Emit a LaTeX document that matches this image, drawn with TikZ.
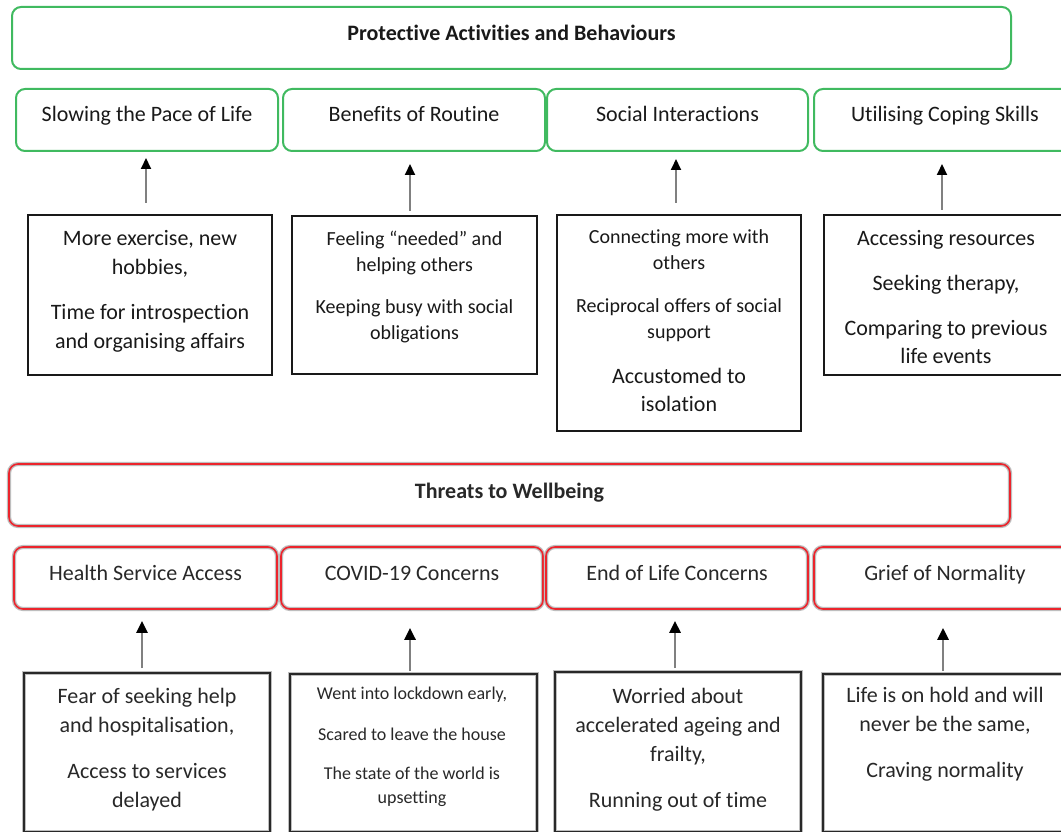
\documentclass[tikz,border=0pt]{standalone}
\usepackage{fontspec}
\setmainfont{Carlito}[Ligatures=NoCommon]
\usetikzlibrary{arrows.meta}
\definecolor{grn}{RGB}{64,186,96}
\definecolor{rd}{RGB}{236,36,44}
\definecolor{halo}{RGB}{190,190,190}
\definecolor{ink}{RGB}{25,25,25}
\definecolor{inkB}{RGB}{40,40,40}
\definecolor{shaft}{RGB}{128,128,128}
\newcommand\fl{\rule{0pt}{.8em}}
\begin{document}
\begin{tikzpicture}[x=1pt,y=-1pt,
  hdrfont/.style={font=\bfseries\fontsize{22}{26}\selectfont, text height=6pt},
  subfont/.style={font=\fontsize{22}{26}\selectfont, text height=4pt},
  greenbox/.style={draw=grn, line width=2, rounded corners=9, minimum height=62,
    text height=0pt, text depth=0pt, inner sep=0, text=ink},
  redbox/.style={preaction={draw=halo, line width=4.2}, draw=rd, line width=1.6,
    rounded corners=9, minimum height=62, text height=0pt, text depth=0pt,
    inner sep=0, text=inkB},
  cboxA/.style={draw=ink, line width=2, inner sep=0},
  cboxB/.style={preaction={draw=halo, line width=3.6}, draw=inkB, line width=2, inner sep=0},
  txtA/.style={anchor=north, inner sep=0, align=center, text=ink, yshift=-1pt},
  txtB/.style={anchor=north, inner sep=0, align=center, text=inkB, yshift=-1pt},
  arr/.style={draw=shaft, line width=2, -{Triangle[length=11pt,width=10pt,color=black]}},
  arrB/.style={draw=shaft, line width=2.6, -{Triangle[length=12pt,width=11pt,color=black]}}
]
\useasboundingbox (0,0) rectangle (1061,832);
\fill[white] (0,0) rectangle (1061,832);

% ---------- Protective section ----------
\node[greenbox, hdrfont, minimum width=999] (hdrA) at (511.5,38) {Protective Activities and Behaviours};

\node[greenbox, subfont, minimum width=262] (sA1) at (147,120) {Slowing the Pace of Life};
\node[greenbox, subfont, minimum width=262] (sA2) at (414,120) {Benefits of Routine};
\node[greenbox, subfont, minimum width=261] (sA3) at (677.5,120) {Social Interactions};
\node[greenbox, subfont, minimum width=262] (sA4) at (945,120) {Utilising Coping Skills};

\node[cboxA, minimum width=244, minimum height=160] (cA1) at (150,295) {};
\node[cboxA, minimum width=245, minimum height=158] (cA2) at (414.5,295) {};
\node[cboxA, minimum width=244, minimum height=216] (cA3) at (679,323) {};
\node[cboxA, minimum width=244, minimum height=160] (cA4) at (946,295) {};

\node[txtA, font=\fontsize{22}{29}\selectfont] (tA1a) at (150,227) {\fl More exercise, new\\hobbies,};
\node[txtA, font=\fontsize{22}{29}\selectfont] (tA1b) at (150,301) {\fl Time for introspection\\and organising affairs};

\node[txtA, font=\fontsize{20}{26}\selectfont] (tA2a) at (414.5,228) {\fl Feeling “needed” and\\helping others};
\node[txtA, font=\fontsize{20}{26}\selectfont] (tA2b) at (414.5,296) {\fl Keeping busy with social\\obligations};

\node[txtA, font=\fontsize{20}{26}\selectfont] (tA3a) at (679,226) {\fl Connecting more with\\others};
\node[txtA, font=\fontsize{20}{26}\selectfont] (tA3b) at (679,295) {\fl Reciprocal offers of social\\support};
\node[txtA, font=\fontsize{22}{28}\selectfont] (tA3c) at (679,365) {\fl Accustomed to\\isolation};

\node[txtA, font=\fontsize{22}{28}\selectfont] (tA4a) at (946,227) {\fl Accessing resources};
\node[txtA, font=\fontsize{22}{28}\selectfont] (tA4b) at (946,272) {\fl Seeking therapy,};
\node[txtA, font=\fontsize{22}{28}\selectfont] (tA4c) at (946,317) {\fl Comparing to previous\\life events};

\draw[arr, shorten <=11pt, shorten >=6pt]  ([xshift=-4pt]cA1.north) -- ([xshift=-4pt]cA1.north |- sA1.south);
\draw[arr, shorten <=4pt,  shorten >=12pt] ([xshift=-4.5pt]cA2.north) -- ([xshift=-4.5pt]cA2.north |- sA2.south);
\draw[arr, shorten <=11pt, shorten >=7pt]  ([xshift=-3pt]cA3.north) -- ([xshift=-3pt]cA3.north |- sA3.south);
\draw[arr, shorten <=4pt,  shorten >=12pt] ([xshift=-4pt]cA4.north) -- ([xshift=-4pt]cA4.north |- sA4.south);

% ---------- Threats section ----------
\node[redbox, hdrfont, minimum width=1001] (hdrB) at (509.5,495) {Threats to Wellbeing};

\node[redbox, subfont, minimum width=263] (sB1) at (145.5,578) {Health Service Access};
\node[redbox, subfont, minimum width=262] (sB2) at (412,578) {COVID-19 Concerns};
\node[redbox, subfont, minimum width=262] (sB3) at (677,578) {End of Life Concerns};
\node[redbox, subfont, minimum width=262] (sB4) at (945,578) {Grief of Normality};

\node[cboxB, minimum width=246, minimum height=158.5] (cB1) at (147,752.25) {};
\node[cboxB, minimum width=247, minimum height=157.5] (cB2) at (413.5,752.75) {};
\node[cboxB, minimum width=246, minimum height=159.5] (cB3) at (678,751.75) {};
\node[cboxB, minimum width=244, minimum height=157.5] (cB4) at (945,752.75) {};

\node[txtB, font=\fontsize{22}{29}\selectfont] (tB1a) at (147,685) {\fl Fear of seeking help\\and hospitalisation,};
\node[txtB, font=\fontsize{22}{29}\selectfont] (tB1b) at (147,760) {\fl Access to services\\delayed};

\node[txtB, font=\fontsize{18}{24}\selectfont] (tB2a) at (412,684) {\fl Went into lockdown early,};
\node[txtB, font=\fontsize{18}{24}\selectfont] (tB2b) at (412,725) {\fl Scared to leave the house};
\node[txtB, font=\fontsize{18}{24}\selectfont] (tB2c) at (412,764) {\fl The state of the world is\\upsetting};

\node[txtB, font=\fontsize{22}{29}\selectfont] (tB3a) at (678,685) {\fl Worried about\\accelerated ageing and\\frailty,};
\node[txtB, font=\fontsize{22}{29}\selectfont] (tB3b) at (678,789) {\fl Running out of time};

\node[txtB, font=\fontsize{22}{29}\selectfont] (tB4a) at (945,684) {\fl Life is on hold and will\\never be the same,};
\node[txtB, font=\fontsize{22}{29}\selectfont] (tB4b) at (945,759) {\fl Craving normality};

\draw[arrB, shorten <=4pt, shorten >=11pt] ([xshift=-5pt]cB1.north) -- ([xshift=-5pt]cB1.north |- sB1.south);
\draw[arrB, shorten <=2pt, shorten >=18pt] ([xshift=-3.5pt]cB2.north) -- ([xshift=-3.5pt]cB2.north |- sB2.south);
\draw[arrB, shorten <=3pt, shorten >=11pt] ([xshift=-3pt]cB3.north) -- ([xshift=-3pt]cB3.north |- sB3.south);
\draw[arrB, shorten <=2pt, shorten >=18pt] ([xshift=-2pt]cB4.north) -- ([xshift=-2pt]cB4.north |- sB4.south);
\end{tikzpicture}
\end{document}
